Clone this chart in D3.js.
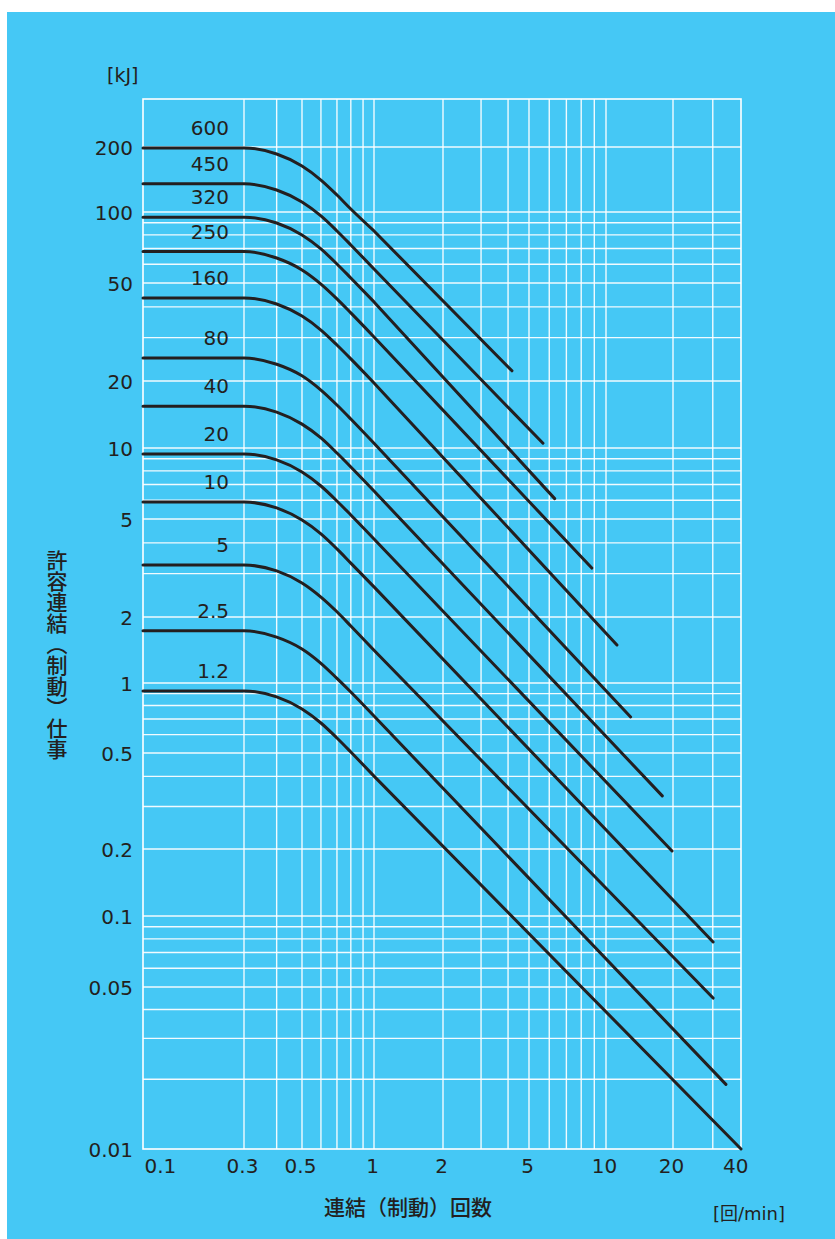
<!DOCTYPE html>
<html>
<head>
<meta charset="utf-8">
<script src="https://cdn.jsdelivr.net/npm/d3@7"></script>
<style>
body { margin: 0; background: #fff; }
svg { display: block; }
</style>
</head>
<body>
<div id="chart"></div>
<script>
// axis ticks and grid
const xTicks = [0.1, 0.3, 0.5, 1, 2, 5, 10, 20, 40];
const yTicks = [200, 100, 50, 20, 10, 5, 2, 1, 0.5, 0.2, 0.1, 0.05, 0.01];
const xGrid = [0.3, 0.4, 0.5, 0.6, 0.7, 0.8, 0.9, 1, 2, 3, 4, 5, 6, 7, 8, 9, 10, 20, 30];
const yGrid = [0.02, 0.03, 0.04, 0.05, 0.06, 0.07, 0.08, 0.09, 0.1, 0.2, 0.3, 0.4, 0.5, 0.6, 0.7, 0.8, 0.9,
    1, 2, 3, 4, 5, 6, 7, 8, 9, 10, 20, 30, 40, 50, 60, 70, 80, 90, 100, 200];

// curves: value [kJ] at kneeFreq, last value at endFreq
const curveLabels = ["600", "450", "320", "250", "160", "80", "40", "20", "10", "5", "2.5", "1.2"];
const kneeFreq = [0.1, 0.3, 0.4, 0.5, 0.6, 0.7, 0.8, 1];
const endFreq = [4.17, 5.67, 6.3, 8.8, 11.2, 12.9, 17.9, 19.8, 30.1, 30.1, 34.3, 40];
const s600 = [198, 198, 185.6, 163.3, 140.6, 119.9, 103.2, 83.1, 22];
const s450 = [135, 135, 126.4, 111.2, 96.2, 83.1, 72.5, 57.3, 10.5];
const s320 = [95, 95, 89.8, 79.9, 69.7, 60.2, 52.5, 41.9, 6.1];
const s250 = [68, 68, 63.8, 56.8, 49.5, 43.1, 37.8, 30.2, 3.16];
const s160 = [43.5, 43.5, 41.1, 36.7, 32.2, 28.0, 24.6, 19.6, 1.49];
const s80 = [24.8, 24.8, 23.4, 21.0, 18.2, 15.6, 13.5, 10.5, 0.714];
const s40 = [15.4, 15.4, 14.5, 12.8, 11.1, 9.52, 8.31, 6.57, 0.332];
const s20 = [9.43, 9.43, 8.90, 7.91, 6.90, 5.96, 5.20, 4.15, 0.196];
const s10 = [5.9, 5.9, 5.57, 4.95, 4.35, 3.78, 3.31, 2.65, 0.0776];
const s5 = [3.25, 3.25, 3.08, 2.75, 2.41, 2.10, 1.82, 1.41, 0.0448];
const s2_5 = [1.73, 1.73, 1.62, 1.43, 1.23, 1.05, 0.915, 0.721, 0.019];
const s1_2 = [0.924, 0.924, 0.871, 0.773, 0.673, 0.580, 0.505, 0.401, 0.01];
const series = [s600, s450, s320, s250, s160, s80, s40, s20, s10, s5, s2_5, s1_2];

const width = 835, height = 1239;
const blue = "#45c8f5";
const ink = "#231f20";
const numFont = "'DejaVu Sans', sans-serif";
const jpFont = "'Noto Sans CJK JP', sans-serif";

// the printed grid is not an exact log grid, so the scales are piecewise log
let x = d3.scaleLog()
    .domain(xTicks)
    .range([143, 244, 302, 374, 443, 529, 606, 673, 741]);
let y = d3.scaleLog()
    .domain([0.01, 0.05, 0.1, 0.2, 0.5, 1, 2, 5, 10, 20, 50, 100, 200, 300])
    .range([1149, 987, 916, 849, 753, 683, 617, 519, 448, 381, 283, 212, 147, 99]);
const yTop = 300, yBottom = 0.01, xLeft = 0.1, xRight = 40;

let svg = d3.select("#chart").append("svg")
    .attr("width", width)
    .attr("height", height)
    .attr("viewBox", `0 0 ${width} ${height}`);

svg.append("rect")
    .attr("x", 7).attr("y", 12)
    .attr("width", width - 7).attr("height", height - 12)
    .attr("fill", blue);

let grid = svg.append("g")
    .attr("stroke", "#fff")
    .attr("stroke-width", 1.4)
    .attr("stroke-opacity", 0.92);
grid.selectAll(".vx").data(xGrid).join("line")
    .attr("class", "vx")
    .attr("x1", d => x(d)).attr("x2", d => x(d))
    .attr("y1", y(yTop)).attr("y2", y(yBottom));
grid.selectAll(".hy").data(yGrid).join("line")
    .attr("class", "hy")
    .attr("x1", x(xLeft)).attr("x2", x(xRight))
    .attr("y1", d => y(d)).attr("y2", d => y(d));
svg.append("rect")
    .attr("x", x(xLeft)).attr("y", y(yTop))
    .attr("width", x(xRight) - x(xLeft))
    .attr("height", y(yBottom) - y(yTop))
    .attr("fill", "none")
    .attr("stroke", "#fff")
    .attr("stroke-width", 1.6);

// rounded knee, then a straight run to the end point
let kneeLine = d3.line()
    .x(d => x(d[0]))
    .y(d => y(d[1]))
    .curve(d3.curveMonotoneX);
let tailLine = d3.line()
    .x(d => x(d[0]))
    .y(d => y(d[1]));

let curvePath = (s, i) => {
    const knee = kneeFreq.map((f, j) => [f, s[j]]);
    const tail = [[1, s[kneeFreq.length - 1]], [endFreq[i], s[kneeFreq.length]]];
    return kneeLine(knee) + tailLine(tail);
};

svg.append("g").selectAll("path").data(series).join("path")
    .attr("d", (d, i) => curvePath(d, i))
    .attr("fill", "none")
    .attr("stroke", ink)
    .attr("stroke-width", 3)
    .attr("stroke-linejoin", "round")
    .attr("stroke-linecap", "round");

svg.append("g").selectAll("text").data(series).join("text")
    .attr("x", 229)
    .attr("y", d => y(d[0]) - 13)
    .attr("text-anchor", "end")
    .attr("font-family", numFont)
    .attr("font-size", 20)
    .attr("fill", ink)
    .text((d, i) => curveLabels[i]);

let yAxis = g => g
    .attr("transform", `translate(133,0)`)
    .call(d3.axisLeft(y).tickValues(yTicks).tickSize(0).tickPadding(0).tickFormat(d => String(d)))
    .call(g => g.select(".domain").remove())
    .call(g => g.selectAll("text")
        .attr("font-family", numFont)
        .attr("font-size", 20)
        .attr("dy", "0.36em")
        .attr("fill", ink));

let xAxis = g => g
    .attr("transform", `translate(0,1159)`)
    .call(d3.axisBottom(x).tickValues(xTicks).tickSize(0).tickPadding(0).tickFormat(d => String(d)))
    .call(g => g.select(".domain").remove())
    .call(g => g.selectAll("text")
        .attr("font-family", numFont)
        .attr("font-size", 20)
        .attr("fill", ink)
        .attr("text-anchor", d => d === xLeft ? "start" : d === xRight ? "end" : "middle")
        .attr("dx", d => d === xLeft ? 1 : d === xRight ? 7 : -2));

svg.append("g").call(yAxis);
svg.append("g").call(xAxis);

svg.append("text")
    .attr("x", 107).attr("y", 82)
    .attr("font-family", numFont)
    .attr("font-size", 19)
    .attr("fill", ink)
    .text("[kJ]");

svg.append("text")
    .attr("x", 408).attr("y", 1215)
    .attr("text-anchor", "middle")
    .attr("font-family", jpFont)
    .attr("font-size", 21)
    .attr("font-weight", 500)
    .attr("fill", ink)
    .text("連結（制動）回数");

svg.append("text")
    .attr("x", 713).attr("y", 1220)
    .attr("font-family", "'DejaVu Sans', 'Noto Sans CJK JP', sans-serif")
    .attr("font-size", 18)
    .attr("fill", ink)
    .text("[回/min]");

svg.append("text")
    .attr("x", 57).attr("y", 655)
    .attr("text-anchor", "middle")
    .attr("font-family", jpFont)
    .attr("font-size", 21)
    .attr("font-weight", 500)
    .attr("fill", ink)
    .style("writing-mode", "vertical-rl")
    .text("許容連結（制動）仕事");
</script>
</body>
</html>
